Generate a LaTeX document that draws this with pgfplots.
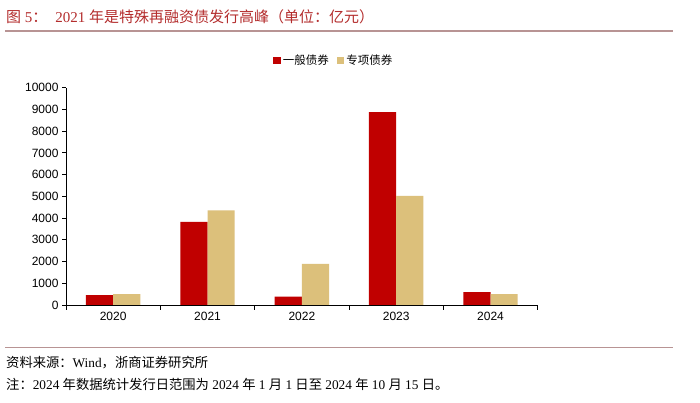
\documentclass[border=0pt]{standalone}
\usepackage{pgfplots}
\pgfplotsset{compat=1.18}
\usepackage{fontspec}
\setmainfont{Liberation Serif}
\newfontfamily\cjk{Noto Sans CJK SC}
\newfontfamily\lsans{Liberation Sans}
\definecolor{barred}{HTML}{C00000}
\definecolor{bartan}{HTML}{DCC07B}
\definecolor{titlered}{HTML}{B42D2D}
\definecolor{rulecol}{HTML}{B89494}
\begin{document}
\begin{tikzpicture}[x=1pt,y=1pt]
\path[use as bounding box, fill=white] (0,0) rectangle (700,403);
\draw[rulecol, line width=1.5pt] (5,372) -- (673,372);
\draw[rulecol, line width=1.5pt] (5,55.3) -- (673,55.3);
\node[anchor=west, inner sep=0pt, text=titlered, font=\fontsize{15}{17}\selectfont] at (6,386)
  {{\cjk 图} 5{\cjk ：}\hspace{8pt}2021 {\cjk 年是特殊再融资债发行高峰（单位：亿元）}};
\node[anchor=west, inner sep=0pt, font=\fontsize{13.3}{15}\selectfont] at (6,40.5)
  {{\cjk 资料来源：}Wind{\cjk ，浙商证券研究所}};
\node[anchor=west, inner sep=0pt, font=\fontsize{13.3}{15}\selectfont] at (6,19)
  {{\cjk 注：}2024 {\cjk 年数据统计发行日范围为} 2024 {\cjk 年} 1 {\cjk 月} 1 {\cjk 日至} 2024 {\cjk 年} 10 {\cjk 月} 15 {\cjk 日。}};
\begin{axis}[
  at={(66pt,98pt)}, anchor=south west,
  scale only axis, width=471.7pt, height=217.3pt,
  ymin=0, ymax=10000,
  ytick={0,1000,...,10000},
  xmin=-0.5, xmax=4.5,
  xtick={0,1,2,3,4},
  xticklabels={2020,2021,2022,2023,2024},
  minor xtick={-0.5,0.5,1.5,2.5,3.5,4.5},
  major x tick style={draw=none},
  axis x line=bottom, axis y line=left,
  axis line style={-, black, line width=0.8pt},
  tick style={black, line width=0.8pt},
  tick align=outside,
  major tick length=4pt, minor tick length=5pt,
  scaled y ticks=false,
  /pgf/number format/1000 sep={},
  /pgf/number format/assume math mode=true,
  ticklabel style={font=\lsans\fontsize{12}{14}\selectfont},
  ybar=0pt, bar width=27.2pt,
  legend style={at={(0.568,1.125)}, anchor=center, draw=none, fill=none,
    legend columns=2, font=\cjk\fontsize{11.5}{13}\selectfont,
    /tikz/every even column/.append style={column sep=6pt}},
  legend image code/.code={\fill[#1] (0pt,-3.75pt) rectangle (7.5pt,3.75pt);},
]
\addplot[fill=barred, draw=none] coordinates {(0,460) (1,3820) (2,380) (3,8880) (4,595)};
\addplot[fill=bartan, draw=none] coordinates {(0,505) (1,4358) (2,1887) (3,5016) (4,500)};
\legend{一般债券,专项债券}
\end{axis}
\end{tikzpicture}
\end{document}
